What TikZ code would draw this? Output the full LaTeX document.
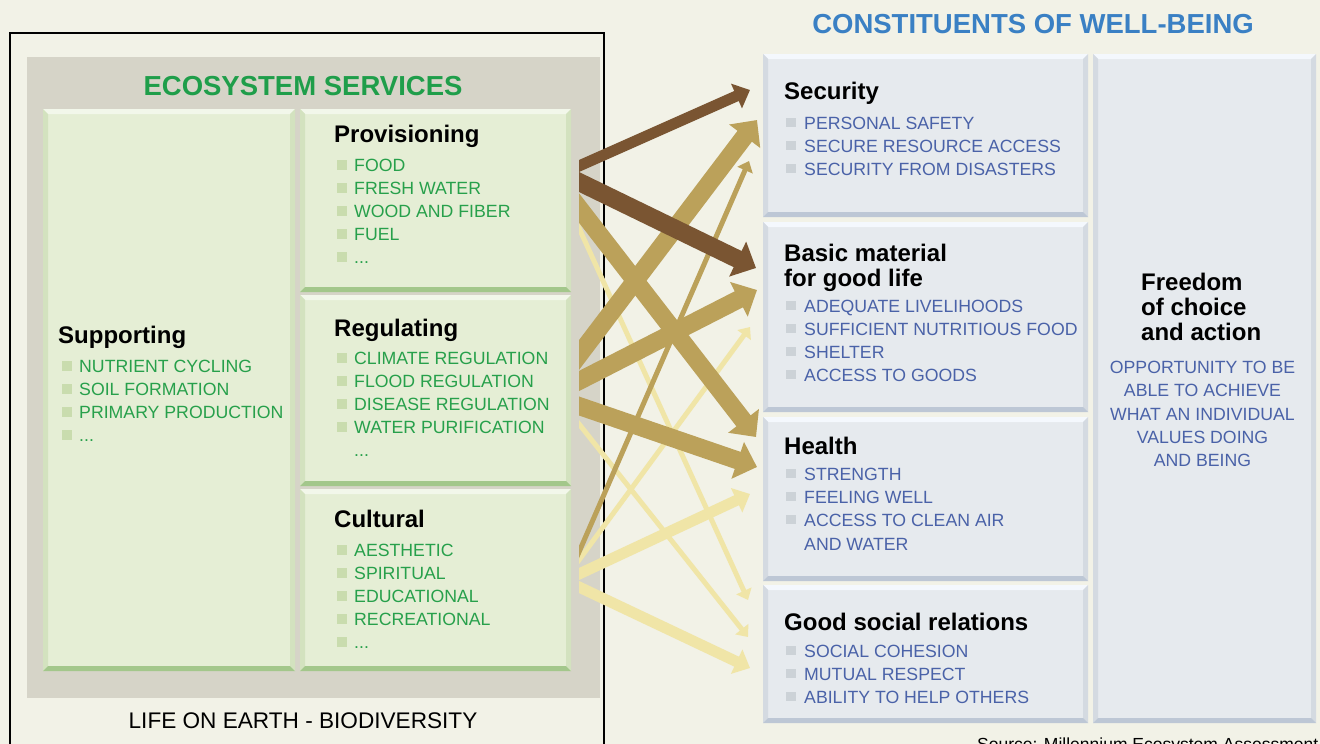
\documentclass[tikz,border=0pt]{standalone}
\usepackage{fontspec}
\setmainfont{Liberation Sans}
\usetikzlibrary{calc,arrows.meta}
\definecolor{bgc}{HTML}{F2F2E7}
\definecolor{panelc}{HTML}{D6D4C8}
\definecolor{gfill}{HTML}{E5EED5}
\definecolor{gtop}{HTML}{F2F7EA}
\definecolor{gside}{HTML}{D3E2BF}
\definecolor{gbot}{HTML}{A3C78B}
\definecolor{gbul}{HTML}{C9DCAE}
\definecolor{gtxt}{HTML}{27A04B}
\definecolor{ghead}{HTML}{1F9E4A}
\definecolor{bfill}{HTML}{E6EAEE}
\definecolor{btop}{HTML}{F4F8FD}
\definecolor{bside}{HTML}{D4DAE1}
\definecolor{bbot}{HTML}{BDC7D5}
\definecolor{bbul}{HTML}{CCD2D7}
\definecolor{btxt}{HTML}{4A62A8}
\definecolor{bhead}{HTML}{3A80C4}
\definecolor{adark}{HTML}{7A5532}
\definecolor{atan}{HTML}{BBA15A}
\definecolor{alight}{HTML}{F0E5A7}
\newcommand\mybevel[5]{%
 \fill[#2] (#1.north west) -- (#1.north east) -- ($(#1.north east)+(-5,5)$) -- ($(#1.north west)+(5,5)$) -- cycle;
 \fill[#3] (#1.north west) -- ($(#1.north west)+(5,5)$) -- ($(#1.south west)+(5,-5)$) -- (#1.south west) -- cycle;
 \fill[#4] (#1.north east) -- ($(#1.north east)+(-5,5)$) -- ($(#1.south east)+(-5,-5)$) -- (#1.south east) -- cycle;
 \fill[#5] (#1.south west) -- ($(#1.south west)+(5,-5)$) -- ($(#1.south east)+(-5,-5)$) -- (#1.south east) -- cycle;
}
\newcommand\gi[4]{\node[gsq] (#1s) at (#2-12.5,#3-6.5) {}; \node[gitem] (#1) at (#2,#3) {#4};}
\newcommand\bi[4]{\node[bsq] (#1s) at (#2-13,#3-6.5) {}; \node[bitem] (#1) at (#2,#3) {#4};}
\tikzset{
 box/.style={draw=none, inner sep=0pt, outer sep=0pt, anchor=north west},
 gbox/.style={box, fill=gfill},
 bbox/.style={box, fill=bfill},
 ttl/.style={font={\fontsize{24}{28}\selectfont\bfseries}, anchor=base west, inner sep=0pt, text=black},
 gitem/.style={font={\fontsize{17.7}{20}\selectfont}, text=gtxt, anchor=base west, inner sep=0pt},
 bitem/.style={font={\fontsize{17.7}{20}\selectfont}, text=btxt, anchor=base west, inner sep=0pt},
 fitem/.style={font={\fontsize{17.7}{20}\selectfont}, text=btxt, anchor=base, inner sep=0pt},
 gsq/.style={fill=gbul, minimum size=10pt, inner sep=0pt, outer sep=0pt},
 bsq/.style={fill=bbul, minimum size=9.5pt, inner sep=0pt, outer sep=0pt},
 head/.style={font={\fontsize{27.5}{30}\selectfont\bfseries}, anchor=base, inner sep=0pt},
 flow/.style={-{Triangle[length=6pt 0.8, width=8pt 1.65]}, shorten <=-15pt},
}
\begin{document}
\begin{tikzpicture}[x=1pt,y=-1pt]
\useasboundingbox (0,0) rectangle (1320,744);
\fill[bgc] (0,0) rectangle (1320,744);
% frame and panel
\node[box, draw=black, line width=2pt, minimum width=594pt, minimum height=740pt] (frame) at (10,33) {};
\node[box, fill=panelc, minimum width=573pt, minimum height=641pt] (panel) at (27,57) {};
% green boxes
\node[gbox, minimum width=252pt, minimum height=562pt] (sup) at (43,109) {};
\node[gbox, minimum width=271pt, minimum height=183pt] (prov) at (300,109) {};
\node[gbox, minimum width=271pt, minimum height=191pt] (reg) at (300,295) {};
\node[gbox, minimum width=271pt, minimum height=182pt] (cult) at (300,489) {};
\foreach \n in {sup,prov,reg,cult} {\mybevel{\n}{gtop}{gside}{gside}{gbot}}
% blue boxes
\node[bbox, minimum width=325pt, minimum height=163pt] (sec) at (763,54) {};
\node[bbox, minimum width=325pt, minimum height=190pt] (basic) at (763,222) {};
\node[bbox, minimum width=325pt, minimum height=164pt] (health) at (763,417) {};
\node[bbox, minimum width=325pt, minimum height=138pt] (good) at (763,585) {};
\node[bbox, minimum width=223pt, minimum height=669pt] (free) at (1093,54) {};
\foreach \n in {sec,basic,health,good,free} {\mybevel{\n}{btop}{bside}{bside}{bbot}}
% headings
\node[head, text=ghead] (eshead) at (303,95) {ECOSYSTEM SERVICES};
\node[head, text=bhead] (cwhead) at (1033,34) {CONSTITUENTS OF WELL-BEING};
\node[font={\fontsize{22.6}{26}\selectfont}, anchor=base, inner sep=0pt] (life) at (303,728) {LIFE ON EARTH - BIODIVERSITY};
\node[font={\fontsize{17.5}{20}\selectfont}, anchor=base west, inner sep=0pt] (src) at (977,750) {Source: Millennium Ecosystem Assessment};
% supporting
\node[ttl] (supT) at (58,343) {Supporting};
\gi{s1}{79}{372}{NUTRIENT CYCLING}
\gi{s2}{79}{395}{SOIL FORMATION}
\gi{s3}{79}{418}{PRIMARY PRODUCTION}
\gi{s4}{79}{441}{...}
% provisioning
\node[ttl] (provT) at (334,142) {Provisioning};
\gi{p1}{354}{171}{FOOD}
\gi{p2}{354}{194}{FRESH WATER}
\gi{p3}{354}{217}{WOOD AND FIBER}
\gi{p4}{354}{240}{FUEL}
\gi{p5}{354}{263}{...}
% regulating
\node[ttl] (regT) at (334,336) {Regulating};
\gi{r1}{354}{364}{CLIMATE REGULATION}
\gi{r2}{354}{387}{FLOOD REGULATION}
\gi{r3}{354}{410}{DISEASE REGULATION}
\gi{r4}{354}{433}{WATER PURIFICATION}
\node[gitem] (r5) at (354,456) {...};
% cultural
\node[ttl] (cultT) at (334,527) {Cultural};
\gi{c1}{354}{556}{AESTHETIC}
\gi{c2}{354}{579}{SPIRITUAL}
\gi{c3}{354}{602}{EDUCATIONAL}
\gi{c4}{354}{625}{RECREATIONAL}
\gi{c5}{354}{648}{...}
% security
\node[ttl] (secT) at (784,99) {Security};
\bi{e1}{804}{129}{PERSONAL SAFETY}
\bi{e2}{804}{152}{SECURE RESOURCE ACCESS}
\bi{e3}{804}{175}{SECURITY FROM DISASTERS}
% basic material
\node[ttl] (basT1) at (784,261) {Basic material};
\node[ttl] (basT2) at (784,286) {for good life};
\bi{b1}{804}{312}{ADEQUATE LIVELIHOODS}
\bi{b2}{804}{335}{SUFFICIENT NUTRITIOUS FOOD}
\bi{b3}{804}{358}{SHELTER}
\bi{b4}{804}{381}{ACCESS TO GOODS}
% health
\node[ttl] (heaT) at (784,454) {Health};
\bi{h1}{804}{480}{STRENGTH}
\bi{h2}{804}{503}{FEELING WELL}
\bi{h3}{804}{526}{ACCESS TO CLEAN AIR}
\node[bitem] (h4) at (804,550) {AND WATER};
% good social relations
\node[ttl] (gooT) at (784,630) {Good social relations};
\bi{g1}{804}{657}{SOCIAL COHESION}
\bi{g2}{804}{680}{MUTUAL RESPECT}
\bi{g3}{804}{703}{ABILITY TO HELP OTHERS}
% freedom
\node[ttl] (frT1) at (1141,290) {Freedom};
\node[ttl] (frT2) at (1141,315) {of choice};
\node[ttl] (frT3) at (1141,340) {and action};
\node[fitem] (f1) at (1202.5,373) {OPPORTUNITY TO BE};
\node[fitem] (f2) at (1202.5,396) {ABLE TO ACHIEVE};
\node[fitem] (f3) at (1202.5,420) {WHAT AN INDIVIDUAL};
\node[fitem] (f4) at (1202.5,443) {VALUES DOING};
\node[fitem] (f5) at (1202.5,466) {AND BEING};
% arrow end points
\coordinate (a1s) at (579,166);  \coordinate (a1e) at (750,90);
\coordinate (a2s) at (579,182);  \coordinate (a2e) at (756,268);
\coordinate (a3s) at (579,208);  \coordinate (a3e) at (756,437);
\coordinate (a4s) at (579,228);  \coordinate (a4e) at (748,600);
\coordinate (a5s) at (579,355);  \coordinate (a5e) at (757,120);
\coordinate (a6s) at (579,381);  \coordinate (a6e) at (757,290);
\coordinate (a7s) at (579,406);  \coordinate (a7e) at (757,467);
\coordinate (a8s) at (579,424);  \coordinate (a8e) at (748,637);
\coordinate (a9s) at (579,552);  \coordinate (a9e) at (749,161);
\coordinate (a10s) at (579,560); \coordinate (a10e) at (750,327);
\coordinate (a11s) at (579,574); \coordinate (a11e) at (750,494);
\coordinate (a12s) at (579,587); \coordinate (a12e) at (750,668);
\begin{scope}
\clip (579,0) rectangle (1320,744);
\draw[flow, alight, line width=5pt] (a4s) -- (a4e);
\draw[flow, alight, line width=5pt] (a8s) -- (a8e);
\draw[flow, alight, line width=5pt] (a10s) -- (a10e);
\draw[flow, alight, line width=11pt] (a11s) -- (a11e);
\draw[flow, alight, line width=11pt] (a12s) -- (a12e);
\draw[flow, atan, line width=5pt] (a9s) -- (a9e);
\draw[flow, atan, line width=18pt] (a3s) -- (a3e);
\draw[flow, atan, line width=18pt] (a5s) -- (a5e);
\draw[flow, atan, line width=18pt] (a6s) -- (a6e);
\draw[flow, atan, line width=18pt] (a7s) -- (a7e);
\draw[flow, adark, line width=11pt] (a1s) -- (a1e);
\draw[flow, adark, line width=18pt] (a2s) -- (a2e);
\end{scope}
\end{tikzpicture}
\end{document}
